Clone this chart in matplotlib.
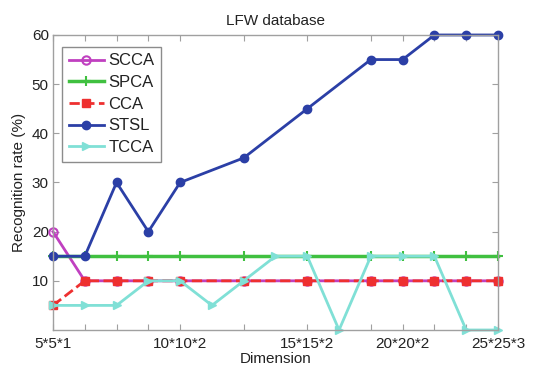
import matplotlib
matplotlib.use("Agg")
import matplotlib.pyplot as plt
import numpy as np

plt.rcParams['font.family'] = ['Liberation Sans', 'DejaVu Sans']

# x positions are indices of evaluated dimensions
x_all = [0, 1, 2, 3, 4, 5, 6, 7, 8, 9, 10, 11, 12, 13, 14]
x_main = [0, 1, 2, 3, 4, 6, 8, 10, 11, 12, 13, 14]
tick_pos = [0, 1, 2, 3, 4, 6, 8, 10, 11, 12, 13, 14]
label_pos = [0, 4, 8, 11, 14]
label_txt = ["5*5*1", "10*10*2", "15*15*2", "20*20*2", "25*25*3"]

scca = [20, 10, 10, 10, 10, 10, 10, 10, 10, 10, 10, 10]
spca = [15, 15, 15, 15, 15, 15, 15, 15, 15, 15, 15, 15]
cca = [5, 10, 10, 10, 10, 10, 10, 10, 10, 10, 10, 10]
stsl = [15, 15, 30, 20, 30, 35, 45, 55, 55, 60, 60, 60]
tcca = [5, 5, 5, 10, 10, 5, 10, 15, 15, 0, 15, 15, 15, 0, 0]

fig = plt.figure(figsize=(5.33, 3.69), dpi=100)
ax = fig.add_axes([0.0994, 0.1057, 0.8349, 0.7995])

ax.plot(x_main, scca, color='#c040c0', marker='o', mfc='none', mew=1.5, ms=6, lw=2, label='SCCA', clip_on=False)
ax.plot(x_main, spca, color='#40c040', marker='+', ms=7, mew=1.5, lw=2.5, label='SPCA', clip_on=False)
ax.plot(x_main, cca, color='#ee3030', marker='s', ms=6, lw=2, ls='--', label='CCA', clip_on=False)
ax.plot(x_main, stsl, color='#2b3fa6', marker='o', ms=6, lw=2, label='STSL', clip_on=False)
ax.plot(x_all, tcca, color='#80e0d6', marker='>', ms=6, lw=2, label='TCCA', clip_on=False)

ax.set_xlim(0, 14)
ax.set_ylim(0, 60)
ax.set_xticks(tick_pos)
lab = [label_txt[label_pos.index(p)] if p in label_pos else "" for p in tick_pos]
ax.set_xticklabels(lab)
ax.set_yticks([10, 20, 30, 40, 50, 60])

for s in ax.spines.values():
    s.set_color('#a0a0a0')
    s.set_linewidth(1.0)
ax.tick_params(direction='in', length=4, color='#a0a0a0', top=True, right=True,
               labelsize=11, labelcolor='#222222', pad=3)
ax.tick_params(axis='x', pad=5)

ax.set_title('LFW database', fontsize=11, color='#222222', pad=7)
ax.set_xlabel('Dimension', fontsize=11, color='#222222', labelpad=1)
ax.set_ylabel('Recognition rate (%)', fontsize=11, color='#222222', labelpad=4)

leg = ax.legend(loc='upper left', bbox_to_anchor=(0.02, 0.96), fontsize=12, frameon=True,
                fancybox=False, edgecolor='#707070', handlelength=2.1, handletextpad=0.3,
                borderpad=0.4, labelspacing=0.4, borderaxespad=0)
leg.get_frame().set_linewidth(1.0)
for t in leg.get_texts():
    t.set_color('#222222')

fig.savefig('out.png', dpi=100)
